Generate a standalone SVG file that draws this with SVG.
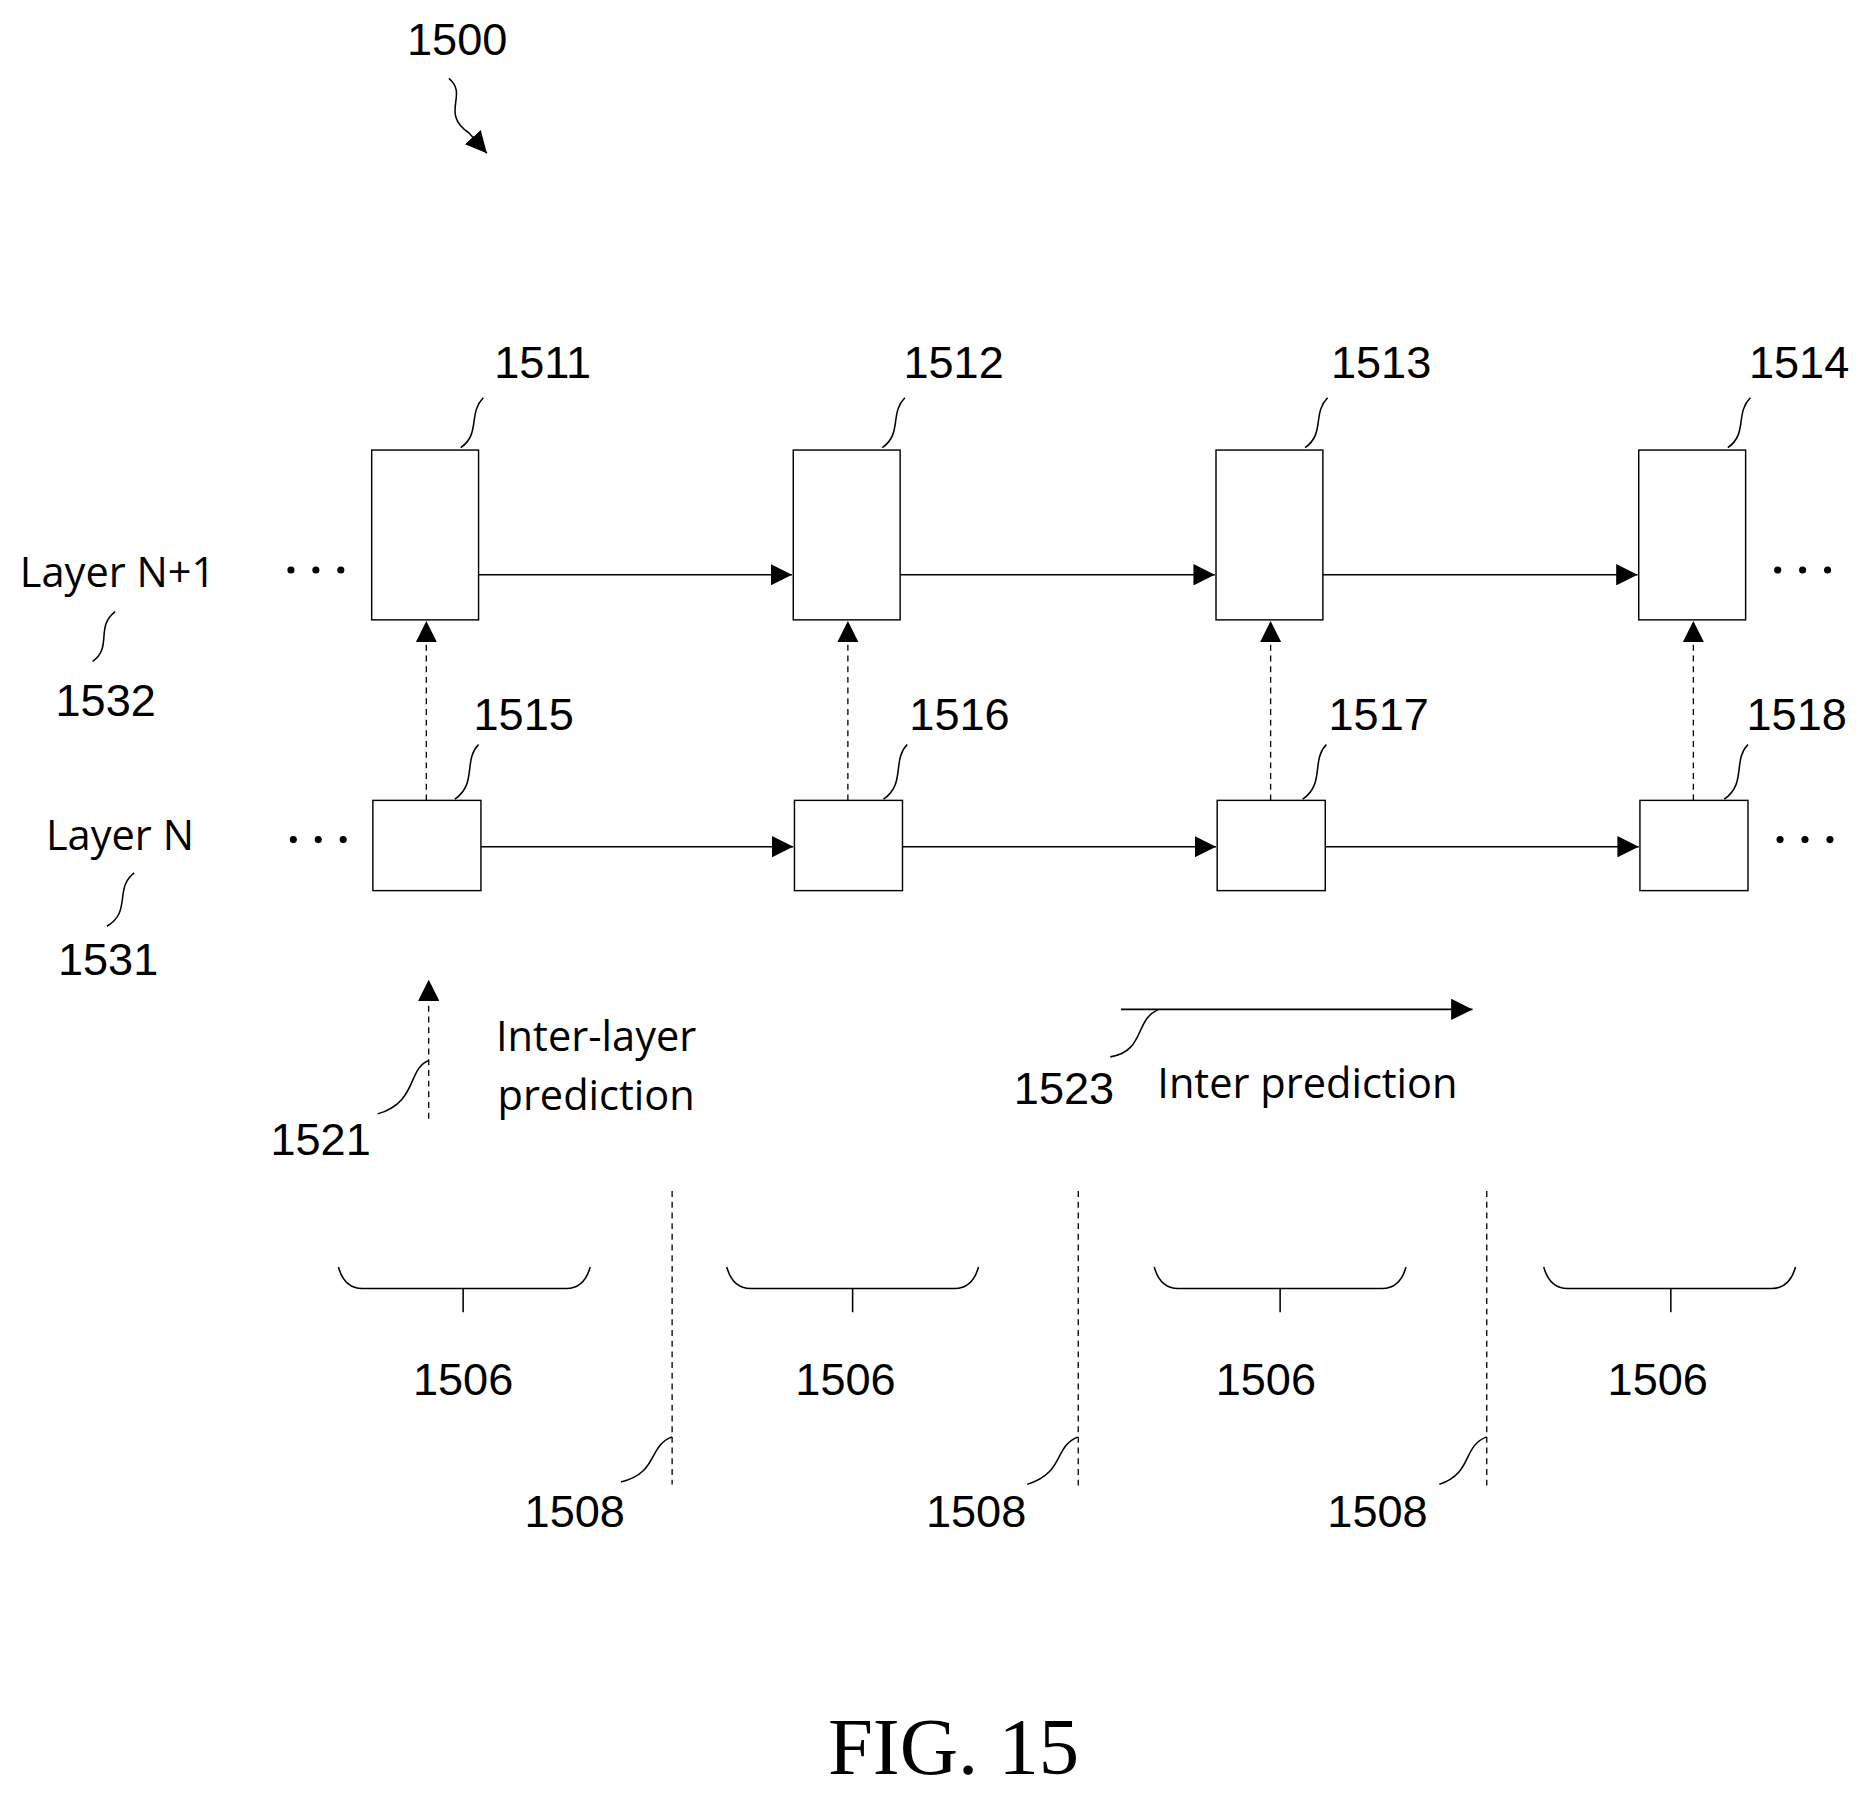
<svg xmlns="http://www.w3.org/2000/svg" width="1862" height="1800" viewBox="0 0 1862 1800">
<style>
.n{font-family:"Liberation Sans Narrow","Liberation Sans",sans-serif;font-size:38px;text-anchor:middle;fill:#000}
.t{font-family:"Open Sans","Liberation Sans",sans-serif;font-size:35px;text-anchor:middle;fill:#000}
.b{fill:#fff;stroke:#000;stroke-width:1.2}
.l{fill:none;stroke:#000;stroke-width:1.3}
.d{fill:none;stroke:#000;stroke-width:1.1;stroke-dasharray:5 4}
.dot{fill:#000}
</style>
<defs>
<marker id="a" viewBox="0 0 10 10" refX="10" refY="5" markerWidth="18" markerHeight="18" markerUnits="userSpaceOnUse" orient="auto"><path d="M0,0L10,5L0,10z" fill="#000"/></marker>
</defs>
<rect width="1862" height="1800" fill="#fff"/>
<g transform="scale(1.1875)">
<g id="fig-label">
<text class="n" x="385" y="46">1500</text>
<path class="l" d="M378,66 C395,80 370,95 395,112 L410,129" marker-end="url(#a)"/>
</g>
<g id="layer-labels">
<text class="t" x="99" y="494">Layer N+1</text>
<text class="n" x="89" y="603">1532</text>
<path class="l" d="M97,515 C80,528 95,545 78,557"/>
<text class="t" x="101" y="716">Layer N</text>
<text class="n" x="91" y="821">1531</text>
<path class="l" d="M113,735 C96,748 111,768 90,780"/>
<circle class="dot" cx="245" cy="480" r="3"/><circle class="dot" cx="266" cy="480" r="3"/><circle class="dot" cx="287" cy="480" r="3"/>
<circle class="dot" cx="247" cy="707" r="3"/><circle class="dot" cx="268" cy="707" r="3"/><circle class="dot" cx="289" cy="707" r="3"/>
<circle class="dot" cx="1497" cy="480" r="3"/><circle class="dot" cx="1518" cy="480" r="3"/><circle class="dot" cx="1539" cy="480" r="3"/>
<circle class="dot" cx="1499" cy="707" r="3"/><circle class="dot" cx="1520" cy="707" r="3"/><circle class="dot" cx="1541" cy="707" r="3"/>
</g>
<g id="node-1511"><rect class="b" x="313" y="379" width="90" height="143"/><text class="n" x="457" y="318">1511</text><path class="l" d="M407,335 C394,348 405,365 388,377"/></g>
<g id="node-1512"><rect class="b" x="668" y="379" width="90" height="143"/><text class="n" x="803" y="318">1512</text><path class="l" d="M762,335 C749,348 760,365 743,377"/></g>
<g id="node-1513"><rect class="b" x="1024" y="379" width="90" height="143"/><text class="n" x="1163" y="318">1513</text><path class="l" d="M1118,335 C1105,348 1116,365 1099,377"/></g>
<g id="node-1514"><rect class="b" x="1380" y="379" width="90" height="143"/><text class="n" x="1515" y="318">1514</text><path class="l" d="M1474,335 C1461,348 1472,365 1455,377"/></g>
<g id="node-1515"><rect class="b" x="314" y="674" width="91" height="76"/><text class="n" x="441" y="615">1515</text><path class="l" d="M403,627 C390,640 402,660 383,673"/></g>
<g id="node-1516"><rect class="b" x="669" y="674" width="91" height="76"/><text class="n" x="808" y="615">1516</text><path class="l" d="M764,627 C751,640 763,660 744,673"/></g>
<g id="node-1517"><rect class="b" x="1025" y="674" width="91" height="76"/><text class="n" x="1161" y="615">1517</text><path class="l" d="M1117,627 C1104,640 1116,660 1097,673"/></g>
<g id="node-1518"><rect class="b" x="1381" y="674" width="91" height="76"/><text class="n" x="1513" y="615">1518</text><path class="l" d="M1472,627 C1459,640 1471,660 1452,673"/></g>
<g id="connectors">
<line class="l" x1="403" y1="484" x2="667" y2="484" marker-end="url(#a)"/>
<line class="l" x1="758" y1="484" x2="1023" y2="484" marker-end="url(#a)"/>
<line class="l" x1="1114" y1="484" x2="1379" y2="484" marker-end="url(#a)"/>
<line class="l" x1="405" y1="713" x2="668" y2="713" marker-end="url(#a)"/>
<line class="l" x1="760" y1="713" x2="1024" y2="713" marker-end="url(#a)"/>
<line class="l" x1="1116" y1="713" x2="1380" y2="713" marker-end="url(#a)"/>
<line class="d" x1="359" y1="674" x2="359" y2="523" marker-end="url(#a)"/>
<line class="d" x1="714" y1="674" x2="714" y2="523" marker-end="url(#a)"/>
<line class="d" x1="1070" y1="674" x2="1070" y2="523" marker-end="url(#a)"/>
<line class="d" x1="1426" y1="674" x2="1426" y2="523" marker-end="url(#a)"/>
</g>
<g id="legend">
<line class="d" x1="361" y1="942" x2="361" y2="825" marker-end="url(#a)"/>
<text class="n" x="270" y="973">1521</text>
<path class="l" d="M361,893 C343,900 352,928 318,938"/>
<text class="t" x="502" y="885">Inter-layer</text>
<text class="t" x="502" y="935">prediction</text>
<line class="l" x1="944" y1="850" x2="1240" y2="850" marker-end="url(#a)"/>
<text class="n" x="896" y="930">1523</text>
<path class="l" d="M976,850 C955,858 965,885 935,890"/>
<text class="t" x="1101" y="925">Inter prediction</text>
</g>
<g id="boundaries">
<line class="d" x1="566" y1="1003" x2="566" y2="1250"/>
<line class="d" x1="908" y1="1003" x2="908" y2="1252"/>
<line class="d" x1="1252" y1="1003" x2="1252" y2="1252"/>
<path class="l" d="M566,1210 C545,1218 555,1240 523,1248"/>
<path class="l" d="M908,1210 C887,1218 897,1240 865,1250"/>
<path class="l" d="M1252,1210 C1231,1218 1241,1240 1212,1250"/>
<text class="n" x="484" y="1286">1508</text>
<text class="n" x="822" y="1286">1508</text>
<text class="n" x="1160" y="1286">1508</text>
</g>
<g id="braces">
<path class="l" d="M285,1067 Q290,1085 305,1085 L477,1085 Q492,1085 497,1067 M390,1085 L390,1105"/>
<path class="l" d="M612,1067 Q617,1085 632,1085 L804,1085 Q819,1085 824,1067 M718,1085 L718,1105"/>
<path class="l" d="M972,1067 Q977,1085 992,1085 L1164,1085 Q1179,1085 1184,1067 M1078,1085 L1078,1105"/>
<path class="l" d="M1300,1067 Q1305,1085 1320,1085 L1492,1085 Q1507,1085 1512,1067 M1407,1085 L1407,1105"/>
<text class="n" x="390" y="1175">1506</text>
<text class="n" x="712" y="1175">1506</text>
<text class="n" x="1066" y="1175">1506</text>
<text class="n" x="1396" y="1175">1506</text>
</g>
<text x="803" y="1494" font-family="Liberation Serif,serif" font-size="68" text-anchor="middle">FIG. 15</text>
</g>
</svg>
